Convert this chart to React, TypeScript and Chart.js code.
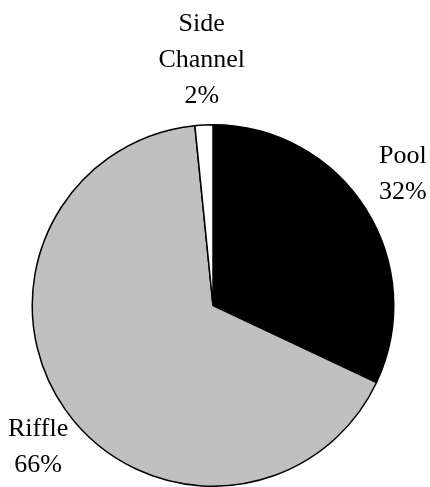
import React, { useEffect, useRef } from "react";
import { Chart, registerables } from "chart.js";

Chart.register(...registerables);

const categories = ["Pool", "Riffle", "Side Channel"];
const values = [32, 66.4, 1.6];
const colors = ["#000000", "#c0c0c0", "#ffffff"];

const FONT = '26px "Liberation Serif", "Times New Roman", serif';
const LINE_H = 36;

const labelPlugin = {
  id: "outsideLabels",
  afterDraw(chart: any) {
    const ctx = chart.ctx;
    const meta = chart.getDatasetMeta(0);
    const data = chart.data.datasets[0].data as number[];
    const total = data.reduce((a: number, b: number) => a + b, 0);
    const W = chart.width;
    const H = chart.height;
    ctx.save();
    ctx.font = FONT;
    ctx.fillStyle = "#000";
    ctx.textAlign = "center";
    ctx.textBaseline = "middle";
    meta.data.forEach((arc: any, i: number) => {
      const { x, y, startAngle, endAngle, outerRadius } = arc.getProps(
        ["x", "y", "startAngle", "endAngle", "outerRadius"],
        true
      );
      const a = (startAngle + endAngle) / 2;
      const lines = String(chart.data.labels[i]).split(" ");
      lines.push(Math.round((data[i] / total) * 100) + "%");
      const w = Math.max(...lines.map((l: string) => ctx.measureText(l).width));
      const h = lines.length * LINE_H;
      const c = Math.cos(a);
      const s = Math.sin(a);
      let cx = x + c * (outerRadius + 44);
      let cy = y + s * (outerRadius + 65);
      cx = Math.min(Math.max(cx, w / 2 + 8), W - w / 2 - 2);
      cy = Math.min(Math.max(cy, h / 2), H - h / 2);
      lines.forEach((l: string, j: number) => {
        ctx.fillText(l, cx, cy + (j - (lines.length - 1) / 2) * LINE_H);
      });
    });
    ctx.restore();
  },
};

export default function App() {
  const ref = useRef<HTMLCanvasElement>(null);
  useEffect(() => {
    document.body.style.margin = "0";
    const chart = new Chart(ref.current!, {
      type: "pie",
      data: {
        labels: categories,
        datasets: [
          {
            data: values,
            backgroundColor: colors,
            borderColor: "#000000",
            borderWidth: 1.5,
          },
        ],
      },
      options: {
        responsive: false,
        animation: false,
        devicePixelRatio: 1,
        layout: { padding: { top: 124, bottom: 0, left: 31, right: 35 } },
        plugins: {
          legend: { display: false },
          tooltip: { enabled: false },
        },
      },
      plugins: [labelPlugin],
    });
    return () => chart.destroy();
  }, []);
  return (
    <div style={{ position: "absolute", left: 0, top: 0, width: 430, height: 487, background: "#fff" }}>
      <canvas ref={ref} width={430} height={487} />
    </div>
  );
}
